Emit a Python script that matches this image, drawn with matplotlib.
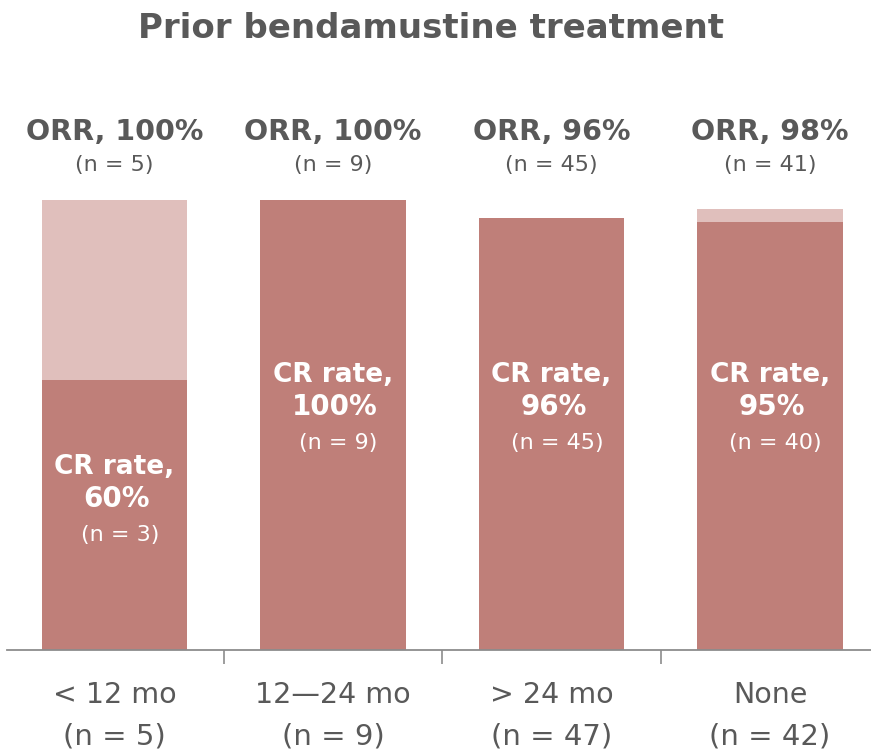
import matplotlib
matplotlib.use('Agg')
import matplotlib.pyplot as plt

# Response by time since prior bendamustine
categories = ['< 12 mo', '12\u201424 mo', '> 24 mo', 'None']
group_n = [5, 9, 47, 42]
orr = [100, 100, 96, 98]
orr_n = [5, 9, 45, 41]
cr = [60, 100, 96, 95]
cr_n = [3, 9, 45, 40]

DARK = '#BF7F79'
LIGHT = '#E0BFBC'
GRAY = '#595959'

fig = plt.figure(figsize=(8.71, 7.55), dpi=100)
ax = fig.add_axes([0, 0.139, 1, 0.861])

x = range(len(categories))
# light part = responders without CR (ORR - CR), stacked on top of CR
ax.bar(x, cr, width=0.664, color=DARK, zorder=2)
ax.bar(x, [o - c for o, c in zip(orr, cr)], bottom=cr, width=0.664, color=LIGHT, zorder=2)

ax.set_xlim(-0.524, 3.462)
ax.set_ylim(0, 144.4)

for s in ['top', 'right', 'left']:
    ax.spines[s].set_visible(False)
ax.spines['bottom'].set_color('#8C8C8C')
ax.spines['bottom'].set_linewidth(1.3)
ax.spines['bottom'].set_bounds(-0.49, 3.462)
ax.set_yticks([])
ax.set_xticks([0.5, 1.5, 2.5])
ax.set_xticklabels([])
ax.tick_params(axis='x', length=10, width=1.2, color='#8C8C8C', direction='out')

ax.text(1.45, 138.0, 'Prior bendamustine treatment', ha='center', va='center',
        fontsize=24.5, fontweight='bold', color=GRAY, clip_on=False)

for i in x:
    ax.text(i, 115.1, f'ORR, {orr[i]}%', ha='center', va='center',
            fontsize=20.5, fontweight='bold', color=GRAY)
    ax.text(i, 107.8, f'(n = {orr_n[i]})', ha='center', va='center',
            fontsize=16, color=GRAY)

    # CR label sits lower in the short bar
    y0 = 40.7 if cr[i] < 80 else 61.1
    ax.text(i, y0, 'CR rate,', ha='center', va='center',
            fontsize=19, fontweight='bold', color='white')
    ax.text(i + 0.01, y0 - 7.2, f'{cr[i]}%', ha='center', va='center',
            fontsize=20, fontweight='bold', color='white')
    ax.text(i + 0.025, y0 - 15.2, f'(n = {cr_n[i]})', ha='center', va='center',
            fontsize=16, color='white')

    ax.text(i, -10.0, categories[i], ha='center', va='center',
            fontsize=20.5, color=GRAY, clip_on=False)
    ax.text(i, -19.3, f'(n = {group_n[i]})', ha='center', va='center',
            fontsize=21, color=GRAY, clip_on=False)

fig.savefig('out.png', dpi=100)
